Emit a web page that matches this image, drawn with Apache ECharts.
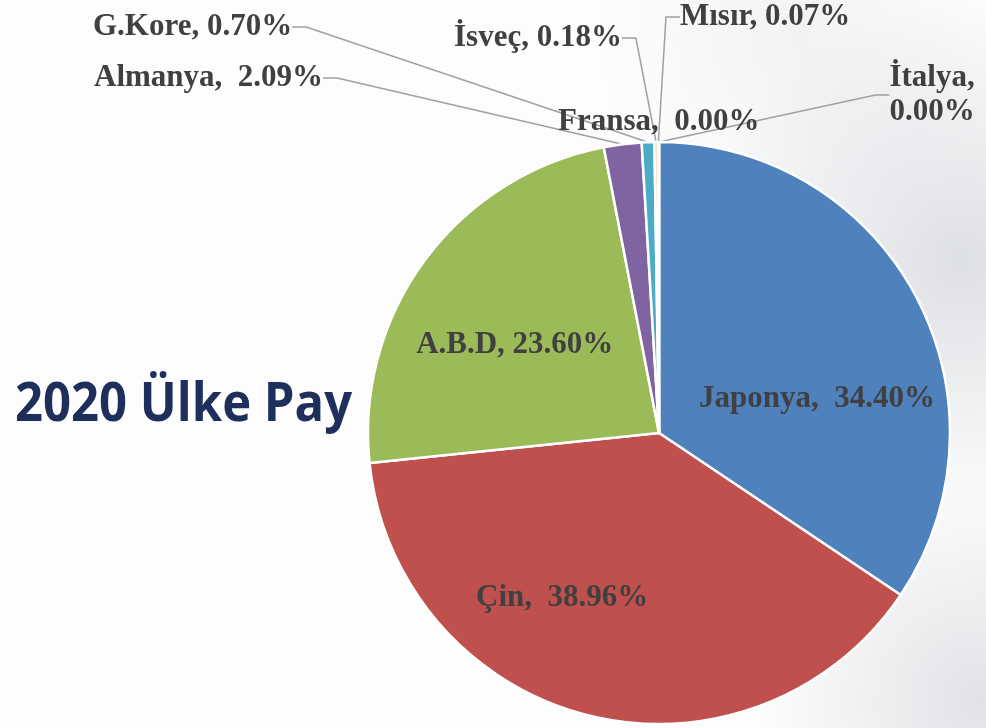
<!DOCTYPE html>
<html><head><meta charset="utf-8">
<script src="https://cdn.jsdelivr.net/npm/echarts@6/dist/echarts.min.js"></script>
<style>html,body{margin:0;padding:0;background:#fdfdfd}#c{width:986px;height:728px}</style>
</head><body><div id="c"></div>
<script>
const categories = ['Japonya', 'Çin', 'A.B.D', 'Almanya', 'G.Kore', 'İsveç', 'Mısır', 'Fransa', 'İtalya'];
const shares = [34.40, 38.96, 23.60, 2.09, 0.70, 0.18, 0.07, 0.00, 0.00];
const separators = [',  ', ',  ', ', ', ',  ', ', ', ', ', ', ', ',  ', ',\n'];
const colors = ['#4F81BD', '#C0504D', '#9BBB59', '#8064A2', '#4BACC6', '#F79646', '#2C4D75', '#772C2A', '#5F7530'];
const titleText = '2020 Ülke Pay';

// label placement (layout only)
const labelPlacement = [
  { inside: true, dx: 27, dy: 36 },
  { inside: true, dx: -61, dy: 21 },
  { inside: true, dx: -25, dy: 0 },
  { x: 94, y: 78, align: 'left' },
  { x: 93, y: 27, align: 'left' },
  { x: 454, y: 38, align: 'left' },
  { x: 680, y: 17, align: 'left' },
  { x: 558, y: 122, align: 'left' },
  { x: 932, y: 95, align: 'center' }
];

const chart = echarts.init(document.getElementById('c'), null, { renderer: 'canvas' });

const bgBlob = (cx, cy, r, a) => ({
  type: 'circle', z: -10, silent: true,
  shape: { cx: cx, cy: cy, r: r },
  style: {
    fill: {
      type: 'radial', x: 0.5, y: 0.5, r: 0.5,
      colorStops: [
        { offset: 0, color: 'rgba(196,200,206,' + a + ')' },
        { offset: 1, color: 'rgba(196,200,206,0)' }
      ]
    }
  }
});

chart.setOption({
  animation: false,
  backgroundColor: '#fdfdfd',
  graphic: [
    bgBlob(960, 260, 260, 0.55),
    bgBlob(980, 700, 220, 0.5),
    bgBlob(800, 40, 200, 0.2),
    {
      type: 'text', z: 10, x: 15, y: 406, scaleY: 1.08, originX: 0, originY: 0,
      style: {
        text: titleText, fill: '#1f2f5c',
        fontFamily: 'Open Sans', fontWeight: 'bold', fontSize: 49,
        verticalAlign: 'middle', align: 'left'
      }
    }
  ],
  series: [{
    type: 'pie',
    center: [659, 433],
    radius: 291,
    startAngle: 90,
    clockwise: true,
    avoidLabelOverlap: false,
    minShowLabelAngle: 0,
    emphasis: { disabled: true },
    itemStyle: { borderColor: '#ffffff', borderWidth: 2.5 },
    label: {
      show: true,
      position: 'outside',
      formatter: p => categories[p.dataIndex] + separators[p.dataIndex] + shares[p.dataIndex].toFixed(2) + '%',
      fontFamily: 'Liberation Serif',
      fontWeight: 'bold',
      fontSize: 31,
      lineHeight: 34,
      color: '#404040',
      align: 'center'
    },
    labelLine: {
      show: true, length: 10, length2: 14, minTurnAngle: 0,
      lineStyle: { color: '#a0a0a0', width: 1.5 }
    },
    labelLayout: function (params) {
      const pl = labelPlacement[params.dataIndex];
      if (pl.inside) return { dx: pl.dx, dy: pl.dy };
      return { x: pl.x, y: pl.y, align: pl.align, verticalAlign: 'middle' };
    },
    data: categories.map((n, i) => {
      const item = { name: n, value: shares[i], itemStyle: { color: colors[i] } };
      if (labelPlacement[i].inside) {
        item.label = { position: 'inside' };
        item.labelLine = { show: false };
      }
      return item;
    })
  }]
});
</script>
</body></html>
